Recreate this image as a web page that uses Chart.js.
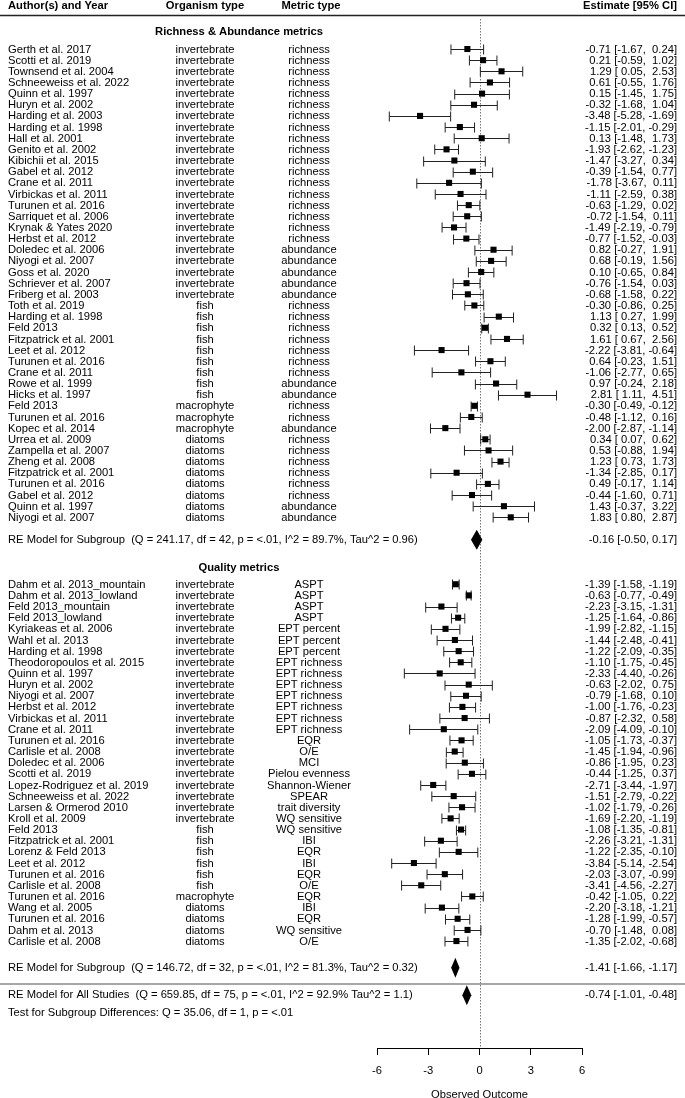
<!DOCTYPE html>
<html>
<head>
<meta charset="utf-8">
<script src="https://cdn.jsdelivr.net/npm/chart.js@4.4.1/dist/chart.umd.min.js"></script>
<style>
  html, body { margin: 0; padding: 0; background: #fff; }
  canvas { display: block; }
</style>
</head>
<body>
<canvas id="forest" width="685" height="1098"></canvas>
<script>
// Richness & Abundance metrics
const richAuthors = ['Gerth et al. 2017', 'Scotti et al. 2019', 'Townsend et al. 2004', 'Schneeweiss et al. 2022',
  'Quinn et al. 1997', 'Huryn et al. 2002', 'Harding et al. 2003', 'Harding et al. 1998', 'Hall et al. 2001',
  'Genito et al. 2002', 'Kibichii et al. 2015', 'Gabel et al. 2012', 'Crane et al. 2011', 'Virbickas et al. 2011',
  'Turunen et al. 2016', 'Sarriquet et al. 2006', 'Krynak & Yates 2020', 'Herbst et al. 2012', 'Doledec et al. 2006',
  'Niyogi et al. 2007', 'Goss et al. 2020', 'Schriever et al. 2007', 'Friberg et al. 2003', 'Toth et al. 2019',
  'Harding et al. 1998', 'Feld 2013', 'Fitzpatrick et al. 2001', 'Leet et al. 2012', 'Turunen et al. 2016',
  'Crane et al. 2011', 'Rowe et al. 1999', 'Hicks et al. 1997', 'Feld 2013', 'Turunen et al. 2016',
  'Kopec et al. 2014', 'Urrea et al. 2009', 'Zampella et al. 2007', 'Zheng et al. 2008', 'Fitzpatrick et al. 2001',
  'Turunen et al. 2016', 'Gabel et al. 2012', 'Quinn et al. 1997', 'Niyogi et al. 2007'];
const richOrganisms = [
  'invertebrate', 'invertebrate', 'invertebrate', 'invertebrate', 'invertebrate', 'invertebrate', 'invertebrate',
  'invertebrate', 'invertebrate', 'invertebrate', 'invertebrate', 'invertebrate', 'invertebrate', 'invertebrate',
  'invertebrate', 'invertebrate', 'invertebrate', 'invertebrate', 'invertebrate', 'invertebrate', 'invertebrate',
  'invertebrate', 'invertebrate', 'fish', 'fish', 'fish', 'fish', 'fish', 'fish', 'fish', 'fish', 'fish',
  'macrophyte', 'macrophyte', 'macrophyte', 'diatoms', 'diatoms', 'diatoms', 'diatoms', 'diatoms', 'diatoms',
  'diatoms', 'diatoms'];
const richMetrics = [
  'richness', 'richness', 'richness', 'richness', 'richness', 'richness', 'richness', 'richness', 'richness',
  'richness', 'richness', 'richness', 'richness', 'richness', 'richness', 'richness', 'richness', 'richness',
  'abundance', 'abundance', 'abundance', 'abundance', 'abundance', 'richness', 'richness', 'richness', 'richness',
  'richness', 'richness', 'richness', 'abundance', 'abundance', 'richness', 'richness', 'abundance', 'richness',
  'richness', 'richness', 'richness', 'richness', 'richness', 'abundance', 'abundance'];
const richEst = [-0.71, 0.21, 1.29, 0.61, 0.15, -0.32, -3.48, -1.15, 0.13, -1.93, -1.47, -0.39, -1.78, -1.11,
  -0.63, -0.72, -1.49, -0.77, 0.82, 0.68, 0.10, -0.76, -0.68, -0.30, 1.13, 0.32, 1.61, -2.22, 0.64, -1.06,
  0.97, 2.81, -0.30, -0.48, -2.00, 0.34, 0.53, 1.23, -1.34, 0.49, -0.44, 1.43, 1.83];
const richLo = [-1.67, -0.59, 0.05, -0.55, -1.45, -1.68, -5.28, -2.01, -1.48, -2.62, -3.27, -1.54, -3.67, -2.59,
  -1.29, -1.54, -2.19, -1.52, -0.27, -0.19, -0.65, -1.54, -1.58, -0.86, 0.27, 0.13, 0.67, -3.81, -0.23, -2.77,
  -0.24, 1.11, -0.49, -1.12, -2.87, 0.07, -0.88, 0.73, -2.85, -0.17, -1.60, -0.37, 0.80];
const richHi = [0.24, 1.02, 2.53, 1.76, 1.75, 1.04, -1.69, -0.29, 1.73, -1.23, 0.34, 0.77, 0.11, 0.38,
  0.02, 0.11, -0.79, -0.03, 1.91, 1.56, 0.84, 0.03, 0.22, 0.25, 1.99, 0.52, 2.56, -0.64, 1.51, 0.65,
  2.18, 4.51, -0.12, 0.16, -1.14, 0.62, 1.94, 1.73, 0.17, 1.14, 0.71, 3.22, 2.87];

// Quality metrics
const qualAuthors = ['Dahm et al. 2013_mountain', 'Dahm et al. 2013_lowland', 'Feld 2013_mountain', 'Feld 2013_lowland',
  'Kyriakeas et al. 2006', 'Wahl et al. 2013', 'Harding et al. 1998', 'Theodoropoulos et al. 2015',
  'Quinn et al. 1997', 'Huryn et al. 2002', 'Niyogi et al. 2007', 'Herbst et al. 2012', 'Virbickas et al. 2011',
  'Crane et al. 2011', 'Turunen et al. 2016', 'Carlisle et al. 2008', 'Doledec et al. 2006', 'Scotti et al. 2019',
  'Lopez-Rodriguez et al. 2019', 'Schneeweiss et al. 2022', 'Larsen & Ormerod 2010', 'Kroll et al. 2009',
  'Feld 2013', 'Fitzpatrick et al. 2001', 'Lorenz & Feld 2013', 'Leet et al. 2012', 'Turunen et al. 2016',
  'Carlisle et al. 2008', 'Turunen et al. 2016', 'Wang et al. 2005', 'Turunen et al. 2016', 'Dahm et al. 2013',
  'Carlisle et al. 2008'];
const qualOrganisms = [
  'invertebrate', 'invertebrate', 'invertebrate', 'invertebrate', 'invertebrate', 'invertebrate', 'invertebrate',
  'invertebrate', 'invertebrate', 'invertebrate', 'invertebrate', 'invertebrate', 'invertebrate', 'invertebrate',
  'invertebrate', 'invertebrate', 'invertebrate', 'invertebrate', 'invertebrate', 'invertebrate', 'invertebrate',
  'invertebrate', 'fish', 'fish', 'fish', 'fish', 'fish', 'fish', 'macrophyte', 'diatoms', 'diatoms', 'diatoms',
  'diatoms'];
const qualMetrics = ['ASPT', 'ASPT', 'ASPT', 'ASPT', 'EPT percent', 'EPT percent', 'EPT percent', 'EPT richness',
  'EPT richness', 'EPT richness', 'EPT richness', 'EPT richness', 'EPT richness', 'EPT richness', 'EQR', 'O/E',
  'MCI', 'Pielou evenness', 'Shannon-Wiener', 'SPEAR', 'trait diversity', 'WQ sensitive', 'WQ sensitive', 'IBI',
  'EQR', 'IBI', 'EQR', 'O/E', 'EQR', 'IBI', 'EQR', 'WQ sensitive', 'O/E'];
const qualEst = [-1.39, -0.63, -2.23, -1.25, -1.99, -1.44, -1.22, -1.10, -2.33, -0.63, -0.79, -1.00, -0.87,
  -2.09, -1.05, -1.45, -0.86, -0.44, -2.71, -1.51, -1.02, -1.69, -1.08, -2.26, -1.22, -3.84, -2.03, -3.41,
  -0.42, -2.20, -1.28, -0.70, -1.35];
const qualLo = [-1.58, -0.77, -3.15, -1.64, -2.82, -2.48, -2.09, -1.75, -4.40, -2.02, -1.68, -1.76, -2.32,
  -4.09, -1.73, -1.94, -1.95, -1.25, -3.44, -2.79, -1.79, -2.20, -1.35, -3.21, -2.35, -5.14, -3.07, -4.56,
  -1.05, -3.18, -1.99, -1.48, -2.02];
const qualHi = [-1.19, -0.49, -1.31, -0.86, -1.15, -0.41, -0.35, -0.45, -0.26, 0.75, 0.10, -0.23, 0.58,
  -0.10, -0.37, -0.96, 0.23, 0.37, -1.97, -0.22, -0.26, -1.19, -0.81, -1.31, -0.10, -2.54, -0.99, -2.27,
  0.22, -1.21, -0.57, 0.08, -0.68];

// Pooled estimates: subgroup 1, subgroup 2, all studies
const summaryLabels = [
  'RE Model for Subgroup  (Q = 241.17, df = 42, p = <.01, I^2 = 89.7%, Tau^2 = 0.96)',
  'RE Model for Subgroup  (Q = 146.72, df = 32, p = <.01, I^2 = 81.3%, Tau^2 = 0.32)',
  'RE Model for All Studies  (Q = 659.85, df = 75, p = <.01, I^2 = 92.9% Tau^2 = 1.1)'];
const summaryEst = [-0.16, -1.41, -0.74];
const summaryLo = [-0.50, -1.66, -1.01];
const summaryHi = [0.17, -1.17, -0.48];

const xTicks = [-6, -3, 0, 3, 6];

// row layout (in row units, 0 = first study)
const richStart = 0;
const qualStart = 48;
const summaryRows = [44, 82.4, 84.85];
const FONT = '"Liberation Sans", Arial, sans-serif';
const FS = 11.2;

const rows = [];
richEst.forEach((v, i) => rows.push({ y: richStart + i, est: v, lo: richLo[i], hi: richHi[i],
  author: richAuthors[i], org: richOrganisms[i], metric: richMetrics[i] }));
qualEst.forEach((v, i) => rows.push({ y: qualStart + i, est: v, lo: qualLo[i], hi: qualHi[i],
  author: qualAuthors[i], org: qualOrganisms[i], metric: qualMetrics[i] }));

function fmt(v) {
  return v.toFixed(2).padStart(5, ' ');
}

const forestPlugin = {
  id: 'forest',
  beforeDatasetsDraw(chart) {
    const { ctx, scales: { x, y }, chartArea } = chart;
    ctx.save();
    // reference line at 0
    ctx.strokeStyle = '#777';
    ctx.lineWidth = 1;
    ctx.setLineDash([1.5, 1.5]);
    ctx.beginPath();
    ctx.moveTo(Math.round(x.getPixelForValue(0)) + 0.5, 19);
    ctx.lineTo(Math.round(x.getPixelForValue(0)) + 0.5, chartArea.bottom);
    ctx.stroke();
    ctx.setLineDash([]);

    // confidence intervals
    ctx.strokeStyle = '#222';
    rows.forEach(r => {
      const py = Math.round(y.getPixelForValue(r.y)) + 0.5;
      const x1 = x.getPixelForValue(r.lo);
      const x2 = x.getPixelForValue(r.hi);
      ctx.beginPath();
      ctx.moveTo(x1, py);
      ctx.lineTo(x2, py);
      ctx.moveTo(x1, py - 5);
      ctx.lineTo(x1, py + 5);
      ctx.moveTo(x2, py - 5);
      ctx.lineTo(x2, py + 5);
      ctx.stroke();
    });

    // pooled diamonds
    ctx.fillStyle = '#000';
    summaryEst.forEach((v, i) => {
      const py = y.getPixelForValue(summaryRows[i]);
      ctx.beginPath();
      ctx.moveTo(x.getPixelForValue(summaryLo[i]), py);
      ctx.lineTo(x.getPixelForValue(v), py - 10);
      ctx.lineTo(x.getPixelForValue(summaryHi[i]), py);
      ctx.lineTo(x.getPixelForValue(v), py + 10);
      ctx.closePath();
      ctx.fill();
    });
    ctx.restore();
  },
  afterDraw(chart) {
    const { ctx, scales: { y } } = chart;
    const W = chart.width;
    ctx.save();
    ctx.fillStyle = '#000';
    ctx.textBaseline = 'middle';

    // header
    ctx.font = 'bold ' + FS + 'px ' + FONT;
    const hy = 6;
    ctx.textAlign = 'left';
    ctx.fillText('Author(s) and Year', 8, hy);
    ctx.textAlign = 'center';
    ctx.fillText('Organism type', 205, hy);
    ctx.fillText('Metric type', 311, hy);
    ctx.textAlign = 'right';
    ctx.fillText('Estimate [95% CI]', 677, hy);

    ctx.strokeStyle = '#222';
    ctx.lineWidth = 1.3;
    ctx.beginPath();
    ctx.moveTo(0, 15.5);
    ctx.lineTo(W, 15.5);
    ctx.stroke();

    // subgroup headings
    ctx.textAlign = 'center';
    ctx.fillText('Richness & Abundance metrics', 239, y.getPixelForValue(richStart - 1.5));
    ctx.fillText('Quality metrics', 239, y.getPixelForValue(qualStart - 1.5));

    // study rows
    ctx.font = FS + 'px ' + FONT;
    rows.forEach(r => {
      const py = y.getPixelForValue(r.y) + 0.5;
      ctx.textAlign = 'left';
      ctx.fillText(r.author, 8, py);
      ctx.textAlign = 'center';
      ctx.fillText(r.org, 205, py);
      ctx.fillText(r.metric, 309, py);
      ctx.textAlign = 'right';
      ctx.fillText(fmt(r.est) + ' [' + fmt(r.lo) + ', ' + fmt(r.hi) + ']', 677, py);
    });

    // pooled rows
    summaryLabels.forEach((lab, i) => {
      const py = y.getPixelForValue(summaryRows[i]);
      ctx.textAlign = 'left';
      ctx.fillText(lab, 8, py);
      ctx.textAlign = 'right';
      ctx.fillText(summaryEst[i].toFixed(2) + ' [' + summaryLo[i].toFixed(2) + ', ' + summaryHi[i].toFixed(2) + ']', 677, py);
    });

    // separator above overall model
    ctx.strokeStyle = '#888';
    ctx.lineWidth = 1.5;
    const sy = y.getPixelForValue(83.86);
    ctx.beginPath();
    ctx.moveTo(0, sy);
    ctx.lineTo(W, sy);
    ctx.stroke();

    ctx.textAlign = 'left';
    ctx.fillText('Test for Subgroup Differences: Q = 35.06, df = 1, p = <.01', 8, y.getPixelForValue(86.4));
    ctx.restore();
  }
};

const ctx = document.getElementById('forest').getContext('2d');
const forestChart = new Chart(ctx, {
  type: 'scatter',
  data: {
    datasets: [{
      label: 'Richness & Abundance',
      data: richEst.map((v, i) => ({ x: v, y: richStart + i })),
      pointStyle: 'rect',
      pointRadius: 4.3,
      backgroundColor: '#000',
      borderColor: '#000',
      borderWidth: 0
    }, {
      label: 'Quality',
      data: qualEst.map((v, i) => ({ x: v, y: qualStart + i })),
      pointStyle: 'rect',
      pointRadius: 4.3,
      backgroundColor: '#000',
      borderColor: '#000',
      borderWidth: 0
    }]
  },
  options: {
    responsive: false,
    animation: false,
    devicePixelRatio: 1,
    layout: { padding: { left: 377, right: 103, top: 15, bottom: 0 } },
    plugins: { legend: { display: false }, tooltip: { enabled: false } },
    scales: {
      x: {
        type: 'linear',
        position: 'bottom',
        min: -6,
        max: 6,
        afterBuildTicks: s => { s.ticks = xTicks.map(v => ({ value: v })); },
        afterFit: s => { s.height = 50; },
        ticks: { color: '#000', font: { family: FONT, size: FS }, padding: 9, maxRotation: 0 },
        grid: { drawOnChartArea: false, drawTicks: true, tickLength: 7, color: '#000' },
        border: { display: true, color: '#000', width: 1 },
        title: { display: true, text: 'Observed Outcome', color: '#000',
          font: { family: FONT, size: FS, lineHeight: 1 }, padding: { top: 0, bottom: -3 } }
      },
      y: {
        type: 'linear',
        reverse: true,
        min: -3.05,
        max: 89.59,
        display: false
      }
    }
  },
  plugins: [forestPlugin]
});
</script>
</body>
</html>
